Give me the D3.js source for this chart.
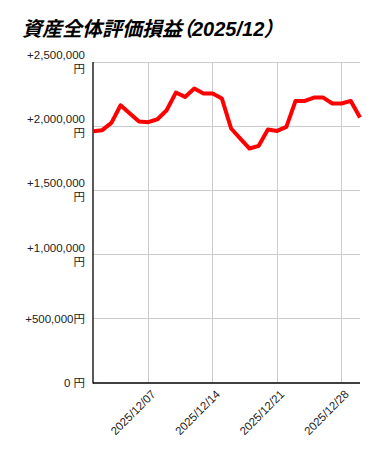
<!DOCTYPE html>
<html><head><meta charset="utf-8">
<script src="https://cdn.jsdelivr.net/npm/d3@7"></script>
<style>
body{margin:0;background:#fff;}
svg{display:block;}
text{font-family:"Liberation Sans",Arial,"Noto Sans CJK JP",sans-serif;}
.palt{font-feature-settings:"palt" 1;}
</style></head>
<body><svg id="c" width="379" height="457"></svg>
<script>
const titleParts = ["資産全体評価損益","（","2025/12","）"];
const days = ["2025-12-01","2025-12-02","2025-12-03","2025-12-04","2025-12-05","2025-12-06","2025-12-07","2025-12-08","2025-12-09","2025-12-10","2025-12-11","2025-12-12","2025-12-13","2025-12-14","2025-12-15","2025-12-16","2025-12-17","2025-12-18","2025-12-19","2025-12-20","2025-12-21","2025-12-22","2025-12-23","2025-12-24","2025-12-25","2025-12-26","2025-12-27","2025-12-28","2025-12-29","2025-12-30"];
const values = [1961000,1969000,2026000,2163000,2099000,2036000,2031000,2054000,2124000,2262000,2228000,2293000,2254000,2254000,2215000,1982000,1904000,1826000,1847000,1974000,1963000,1995000,2197000,2197000,2223000,2223000,2177000,2177000,2197000,2068000];
const yTicks = [0,500000,1000000,1500000,2000000,2500000];
const yTickLabels = [["0 円"],["+500,000円"],["+1,000,000","円"],["+1,500,000","円"],["+2,000,000","円"],["+2,500,000","円"]];
const xTicks = ["2025-12-07","2025-12-14","2025-12-21","2025-12-28"];
const xTickLabels = ["2025/12/07","2025/12/14","2025/12/21","2025/12/28"];

const parse = d3.utcParse("%Y-%m-%d");
const svg = d3.select("#c");
const L=93, R=360, T=62, B=383;
const x = d3.scaleUtc().domain([parse(days[0]), parse(days[days.length-1])]).range([L,R]);
const y = d3.scaleLinear().domain([0,2500000]).range([B,T]);

const tt = svg.append("text").attr("x",22).attr("y",36)
  .attr("font-size",20).attr("font-weight","bold").attr("font-style","italic")
  .attr("fill","#000");
titleParts.forEach((s,i)=>{
  const ts = tt.append("tspan").text(s);
  if (i===1 || i===3) ts.attr("class","palt");
});

// horizontal gridlines
svg.append("g").selectAll("line").data(yTicks.filter(d=>d>0)).join("line")
  .attr("x1",L).attr("x2",R).attr("y1",d=>y(d)).attr("y2",d=>y(d))
  .attr("stroke","#cccccc").attr("stroke-width",1).attr("shape-rendering","crispEdges");
// vertical gridlines
svg.append("g").selectAll("line").data(xTicks).join("line")
  .attr("x1",d=>x(parse(d))).attr("x2",d=>x(parse(d))).attr("y1",T).attr("y2",B)
  .attr("stroke","#cccccc").attr("stroke-width",1).attr("shape-rendering","crispEdges");

// axes lines
svg.append("line").attr("x1",L).attr("x2",L).attr("y1",T).attr("y2",B+0.5).attr("stroke","#000").attr("stroke-width",1.3);
svg.append("line").attr("x1",L).attr("x2",R).attr("y1",B).attr("y2",B).attr("stroke","#000").attr("stroke-width",1.3);

// y labels
const yl = svg.append("g").attr("font-size",11.5).attr("fill","#222").attr("text-anchor","end");
yTicks.forEach((t,i)=>{
  const lines = yTickLabels[i];
  const n = lines.length;
  lines.forEach((s,j)=>{
    yl.append("text").attr("x",85).attr("y", y(t) + (j-(n-1)/2)*14 + 4).text(s);
  });
});

// x labels
svg.append("g").selectAll("text").data(xTicks).join("text")
  .attr("font-size",11.5).attr("fill","#222").attr("text-anchor","end")
  .attr("transform",d=>`translate(${x(parse(d))+8},${B+12}) rotate(-45)`)
  .text((d,i)=>xTickLabels[i]);

// line
const line = d3.line().x((d,i)=>x(parse(days[i]))).y(d=>y(d));
svg.append("path").datum(values).attr("d",line).attr("fill","none")
  .attr("stroke","#ff0000").attr("stroke-width",4).attr("stroke-linejoin","round");
</script></body></html>
